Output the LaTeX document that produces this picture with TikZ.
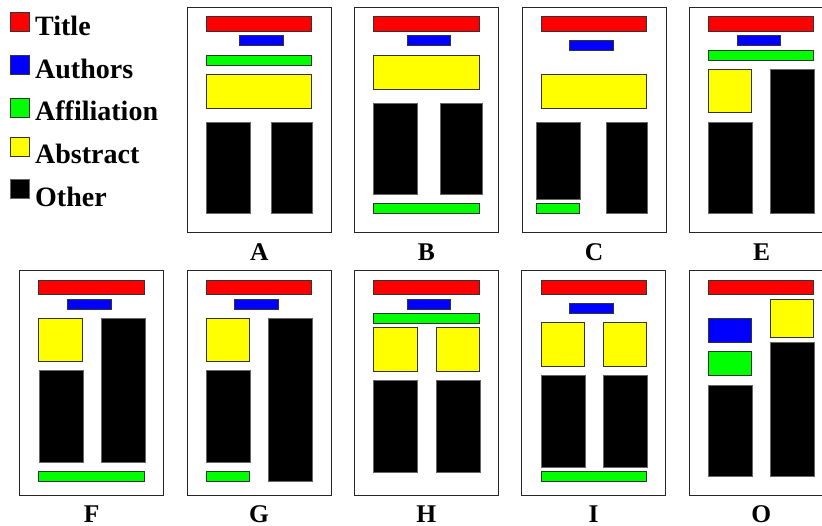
\documentclass[tikz,border=0pt]{standalone}
\usepackage{fontspec}
\setmainfont{Liberation Serif}
\begin{document}
\begin{tikzpicture}[x=1pt,y=-1pt,
  pagebox/.style={draw=black!85,line width=1pt,fill=white},
  ti/.style={draw=black!80,line width=0.6pt,fill={rgb,255:red,255;green,0;blue,0}},
  au/.style={draw=black!80,line width=0.6pt,fill={rgb,255:red,0;green,0;blue,255}},
  af/.style={draw=black!80,line width=0.6pt,fill={rgb,255:red,0;green,255;blue,0}},
  ab/.style={draw=black!80,line width=0.6pt,fill={rgb,255:red,255;green,255;blue,0}},
  ot/.style={draw=black!60,line width=0.4pt,fill=black},
  lgd/.style={anchor=base west,inner sep=0pt,font=\fontsize{28}{30}\selectfont\bfseries},
  lab/.style={anchor=base,inner sep=0pt,font=\fontsize{25.5}{28}\selectfont\bfseries}]
\fill[white] (0,0) rectangle (822,525);
\useasboundingbox (0,0) rectangle (822,525);
\clip (0,0) rectangle (822,525);
% legend
\draw[ti] (10.3,12) rectangle (29.3,31);
\draw[au] (10.3,55.7) rectangle (29.3,74.7);
\draw[af] (10.3,98.3) rectangle (29.3,117.3);
\draw[ab] (10.3,137) rectangle (29.3,156);
\draw[ot] (10.3,179.3) rectangle (29.3,198.5);
\node[lgd] (l1) at (35,35) {Title};
\node[lgd] (l2) at (35,78) {Authors};
\node[lgd] (l3) at (35,120.5) {Affiliation};
\node[lgd] (l4) at (35,163) {Abstract};
\node[lgd] (l5) at (35,206) {Other};
% ---- page A
\draw[pagebox] (187.3,7.3) rectangle (331.3,232.3);
\draw[ti] (206.3,16.7) rectangle (311.7,31.7);
\draw[au] (239.3,35.7) rectangle (283,45.7);
\draw[af] (206.3,55) rectangle (311.7,65);
\draw[ab] (206.3,74) rectangle (311.7,108);
\draw[ot] (206,121.7) rectangle (250,213.3);
\draw[ot] (270.7,121.7) rectangle (312,213.3);
\node[lab] (A) at (259.3,260.2) {A};
% ---- page B
\draw[pagebox] (354.3,7.3) rectangle (498.3,232.3);
\draw[ti] (373.3,16.7) rectangle (479,31.7);
\draw[au] (407,35.7) rectangle (450.7,45.7);
\draw[ab] (373.3,55) rectangle (479,89);
\draw[ot] (373,102.7) rectangle (417.3,194);
\draw[ot] (440,102.7) rectangle (481.7,194);
\draw[af] (373.3,203) rectangle (479,213.3);
\node[lab] (B) at (426.3,260.2) {B};
% ---- page C
\draw[pagebox] (522,7.3) rectangle (666,232.3);
\draw[ti] (541,16.7) rectangle (646.7,31.7);
\draw[au] (569.3,40.7) rectangle (613,50.7);
\draw[ab] (541,74) rectangle (646.7,108);
\draw[ot] (536,122) rectangle (580,199);
\draw[af] (536.3,203.3) rectangle (579.7,213.3);
\draw[ot] (605.7,122) rectangle (647,213.3);
\node[lab] (C) at (594,260.2) {C};
% ---- page E
\draw[pagebox] (689.7,7.3) rectangle (833.7,232.3);
\draw[ti] (708.3,16.7) rectangle (813.7,31.7);
\draw[au] (737,35.7) rectangle (780.7,45.7);
\draw[af] (708.3,50.3) rectangle (813.7,60.3);
\draw[ab] (708.3,69.3) rectangle (751.7,112.7);
\draw[ot] (708.3,121.7) rectangle (752.3,213.3);
\draw[ot] (770,69) rectangle (814.3,213.3);
\node[lab] (E) at (761.7,260.2) {E};
% ---- page F
\draw[pagebox] (19.7,270.7) rectangle (163.7,495.3);
\draw[ti] (38.7,280) rectangle (144.7,294.3);
\draw[au] (67,299) rectangle (111,309);
\draw[ab] (38.7,318) rectangle (82.3,361.3);
\draw[ot] (38.7,370.3) rectangle (83,462.3);
\draw[ot] (100.7,318) rectangle (145,462.3);
\draw[af] (38.7,471) rectangle (144.7,481);
\node[lab] (F) at (91.7,522) {F};
% ---- page G
\draw[pagebox] (187,270.7) rectangle (331,495.3);
\draw[ti] (206.3,280) rectangle (311.7,294.3);
\draw[au] (234.7,299) rectangle (278.7,309);
\draw[ab] (206.3,318) rectangle (249.7,361.3);
\draw[ot] (206,370.3) rectangle (250,462.3);
\draw[af] (206.3,471) rectangle (249.7,481);
\draw[ot] (268,318) rectangle (312.3,481.3);
\node[lab] (G) at (259,522) {G};
% ---- page H
\draw[pagebox] (354.3,270.7) rectangle (498.3,495.3);
\draw[ti] (373.3,280) rectangle (479,294.3);
\draw[au] (407,299) rectangle (450.7,309);
\draw[af] (373.3,313.3) rectangle (479,323.3);
\draw[ab] (373.3,327.7) rectangle (417,371);
\draw[ab] (436,327.7) rectangle (479.3,371);
\draw[ot] (373.3,380) rectangle (417.3,471.7);
\draw[ot] (435.7,380) rectangle (479.7,471.7);
\node[lab] (H) at (426.3,522) {H};
% ---- page I
\draw[pagebox] (521.7,270.7) rectangle (665.7,495.3);
\draw[ti] (541,280) rectangle (646.7,294.3);
\draw[au] (569.3,303.3) rectangle (613.3,313.3);
\draw[ab] (541,322.7) rectangle (584.7,366.3);
\draw[ab] (603.3,322.7) rectangle (646.7,366.3);
\draw[ot] (541,375.3) rectangle (585,467);
\draw[ot] (603.3,375.3) rectangle (647,467);
\draw[af] (541,471) rectangle (646.7,481);
\node[lab] (I) at (593.7,522) {I};
% ---- page O
\draw[pagebox] (689.3,270.7) rectangle (833.3,495.3);
\draw[ti] (708.3,280) rectangle (813.7,294.3);
\draw[au] (708.3,318.3) rectangle (751.7,342.3);
\draw[af] (708.3,351.7) rectangle (751.7,375.7);
\draw[ot] (708.3,385) rectangle (752,476.3);
\draw[ab] (770.3,299.3) rectangle (813.7,337.3);
\draw[ot] (770.3,342) rectangle (814,476.3);
\node[lab] (O) at (761.3,522) {O};
\end{tikzpicture}
\end{document}
